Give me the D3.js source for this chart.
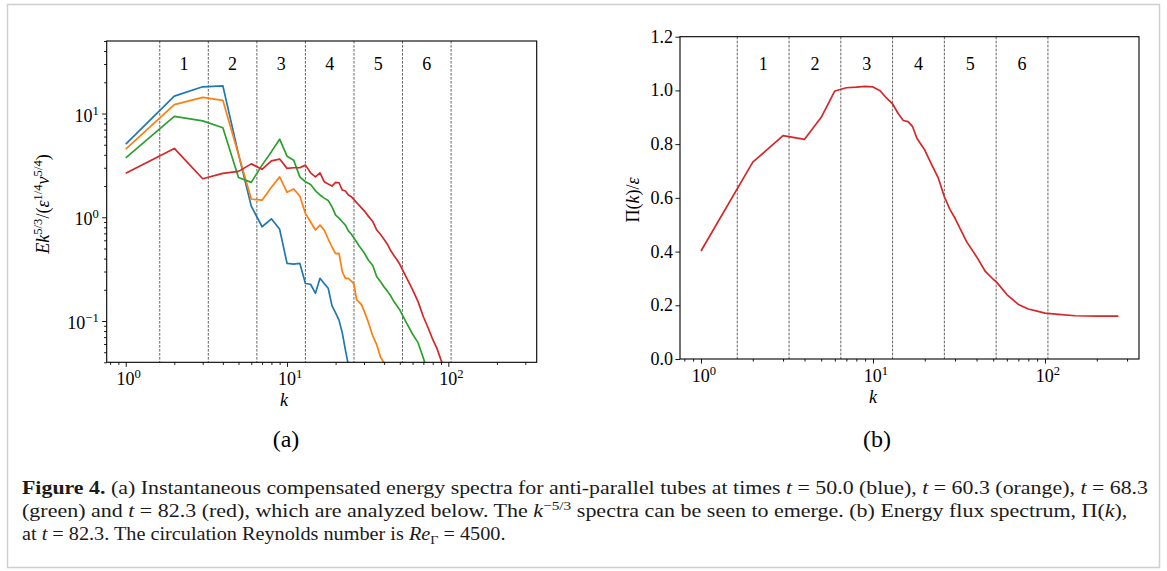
<!DOCTYPE html>
<html><head><meta charset="utf-8">
<script src="https://cdn.jsdelivr.net/npm/d3@7"></script>
<style>
body{margin:0;background:#fff;}
svg{display:block;}
</style></head><body>
<svg id="c" width="1167" height="571" font-family="Liberation Serif"></svg>
<script>
// ---------- data ----------
const kBlue=[1,2,3,4,5,6,7,8,9,10,11,12,13,14,15,16,17,18,19,20,21,22,23,24,25];
const eBlue=[5.07,14.7,18.1,18.5,4.06,1.28,0.81,0.967,0.765,0.36,0.354,0.36,0.23,0.226,0.185,0.258,0.23,0.207,0.14,0.12,0.102,0.077,0.0527,0.0377,0.029];

const kOrange=[1,2,3,4,5,6,7,8,9,10,11,12,13,14,15,16,17,18,19,20,21,22,23,24,25,26,27,28,29,30,32,34,36,38,40,42,44];
const eOrange=[4.54,12.2,14.3,13.4,4.02,1.50,1.46,1.95,2.45,1.74,1.87,1.60,1.09,0.90,0.753,0.84,0.753,0.617,0.517,0.447,0.449,0.299,0.258,0.258,0.243,0.227,0.16,0.152,0.143,0.126,0.0964,0.0718,0.0588,0.0448,0.0395,0.032,0.027];

const kGreen=[1,2,3,4,5,6,7,8,9,10,11,12,13,14,15,16,17,18,19,20,21,22,23,24,25,26,28,30,32,34,36,38,40,42,44,46,48,50,55,60,65,70,75];
const eGreen=[3.74,9.37,8.5,7.28,2.42,2.17,3.18,4.29,5.66,3.88,3.55,2.45,2.20,2.07,1.80,1.64,1.53,1.45,1.26,1.05,0.98,0.905,0.84,0.74,0.69,0.630,0.528,0.457,0.385,0.343,0.267,0.239,0.213,0.193,0.174,0.154,0.14,0.128,0.0958,0.075,0.0615,0.044,0.031];

const kRed=[1,2,3,4,5,6,7,8,9,10,11,12,13,14,15,16,17,18,19,20,21,22,23,24,25,26,28,30,32,34,36,38,40,42,44,46,48,50,55,60,65,70,75,80,85,90,95];
const eRed=[2.65,4.61,2.35,2.65,2.77,3.27,2.90,3.50,3.64,2.96,3.0,3.0,3.18,2.68,2.45,2.68,2.20,2.09,2.0,2.17,2.15,1.83,1.79,1.64,1.58,1.48,1.30,1.16,1.02,0.91,0.753,0.681,0.61,0.546,0.475,0.428,0.390,0.352,0.262,0.201,0.153,0.110,0.0857,0.0664,0.0544,0.0422,0.034];

const kFlux=[1,2,3,4,5,6,7,8,9,10,11,12,13,14,15,16,17,18,20,22,24,26,28,30,35,40,45,50,52,60,70,80,90,100,120,150,200,267];
const piFlux=[0.402,0.733,0.832,0.818,0.90,0.998,1.010,1.012,1.015,1.013,0.999,0.971,0.95,0.914,0.888,0.884,0.865,0.822,0.778,0.722,0.673,0.604,0.557,0.524,0.437,0.381,0.326,0.297,0.288,0.240,0.203,0.186,0.178,0.171,0.166,0.161,0.160,0.160];

const seriesColors=["#1f77b4","#ff7f0e","#2ca02c","#d62728"];
const bounds=[1.625,3.25,6.5,13,26,52,104];
const regionLabels=["1","2","3","4","5","6"];
const xMajor=[1,10,100], xMajorExp=["0","1","2"];
const yMajorA=[0.1,1,10], yMajorExpA=["\u22121","0","1"];
const yMajorB=[0,0.2,0.4,0.6,0.8,1.0,1.2];
const yLabelsB=["0.0","0.2","0.4","0.6","0.8","1.0","1.2"];

// ---------- drawing ----------
const svg=d3.select("#c");
svg.append("rect").attr("x",7.5).attr("y",4.5).attr("width",1152).attr("height",563)
  .attr("fill","none").attr("stroke","#cfcfcf").attr("stroke-width",1.5);

const FS=18;
function richText(sel, segs){
  let shift=0;
  segs.forEach(s=>{
    const o=s[1]||{};
    const target = o.sup? -7 : (o.sub? 4 : 0);
    const t=sel.append("tspan").text(s[0]).attr("dy",target-shift);
    shift=target;
    if(o.it) t.attr("font-style","italic");
    if(o.sup||o.sub) t.attr("font-size",o.fs||"0.7em");
    if(o.bold) t.attr("font-weight","bold");
  });
  return sel;
}

function panel(cfg){
  const g=svg.append("g");
  const x=cfg.x, y=cfg.y;
  const [x0,x1]=x.range(), [yb,yt]=y.range();
  const clipId="clip"+cfg.id;
  svg.append("clipPath").attr("id",clipId).append("rect")
    .attr("x",x0).attr("y",yt).attr("width",x1-x0).attr("height",yb-yt);
  g.selectAll("line.reg").data(bounds).enter().append("line")
    .attr("x1",d=>x(d)).attr("x2",d=>x(d)).attr("y1",yt).attr("y2",yb)
    .attr("stroke","#3a3a3a").attr("stroke-width",0.8).attr("stroke-dasharray","2.6,1.4");
  g.selectAll("text.reg").data(regionLabels).enter().append("text")
    .attr("x",(d,i)=>x(Math.sqrt(bounds[i]*bounds[i+1])))
    .attr("y",y(cfg.labelY)).attr("dy","0.35em")
    .attr("text-anchor","middle").attr("font-size",FS).text(d=>d);
  const line=d3.line().x(d=>x(d[0])).y(d=>y(d[1]));
  const lg=g.append("g").attr("clip-path","url(#"+clipId+")");
  cfg.series.forEach(s=>{
    lg.append("path").attr("d",line(d3.zip(s.k,s.v))).attr("fill","none")
      .attr("stroke",s.color).attr("stroke-width",1.7).attr("stroke-linejoin","round");
  });
  const minorX=x.ticks().filter(t=>!xMajor.includes(t));
  g.append("g").attr("transform","translate(0,"+yb+")")
    .call(d3.axisBottom(x).tickValues(minorX).tickSize(2.6).tickFormat(""))
    .call(a=>a.select(".domain").remove());
  g.append("g").attr("transform","translate(0,"+yb+")")
    .call(d3.axisBottom(x).tickValues(xMajor).tickSize(4.6).tickFormat(""))
    .call(a=>a.select(".domain").remove());
  xMajor.forEach((v,i)=>{
    const t=g.append("text").attr("x",x(v)+3).attr("y",yb+23).attr("text-anchor","middle").attr("font-size",FS);
    richText(t,[["10"],[xMajorExp[i],{sup:true}]]);
  });
  if(cfg.log){
    const minorY=y.ticks().filter(t=>!yMajorA.some(m=>Math.abs(m-t)<1e-9));
    g.append("g").attr("transform","translate("+x0+",0)")
      .call(d3.axisLeft(y).tickValues(minorY).tickSize(2.6).tickFormat(""))
      .call(a=>a.select(".domain").remove());
    g.append("g").attr("transform","translate("+x0+",0)")
      .call(d3.axisLeft(y).tickValues(yMajorA).tickSize(4.6).tickFormat(""))
      .call(a=>a.select(".domain").remove());
    yMajorA.forEach((v,i)=>{
      const t=g.append("text").attr("x",x0-8).attr("y",y(v)+8).attr("text-anchor","end").attr("font-size",FS);
      richText(t,[["10"],[yMajorExpA[i],{sup:true}]]);
    });
  } else {
    g.append("g").attr("transform","translate("+x0+",0)")
      .call(d3.axisLeft(y).tickValues(yMajorB).tickSize(4.6).tickFormat(""))
      .call(a=>a.select(".domain").remove());
    yMajorB.forEach((v,i)=>{
      g.append("text").attr("x",x0-7).attr("y",y(v)+6).attr("text-anchor","end").attr("font-size",FS).text(yLabelsB[i]);
    });
  }
  g.selectAll(".tick line").attr("stroke","#000").attr("stroke-width",0.9);
  g.append("rect").attr("x",x0).attr("y",yt).attr("width",x1-x0).attr("height",yb-yt)
    .attr("fill","none").attr("stroke","#000").attr("stroke-width",1.1);
  g.append("text").attr("x",(x(1)+x(100))/2+(cfg.id==="a"?-3:0)).attr("y",yb+44).attr("text-anchor","middle")
    .attr("font-size",FS).attr("font-style","italic").text("k");
  const yl=g.append("text").attr("transform","translate("+cfg.ylx+","+cfg.yly+") rotate(-90)")
    .attr("text-anchor","middle").attr("font-size",FS);
  richText(yl,cfg.ylabel);
  g.append("text").attr("x",cfg.tagX).attr("y",447).attr("text-anchor","middle").attr("font-size",24).text(cfg.tag);
}

const xA=d3.scaleLog().domain([0.762,353]).range([106.7,536.7]);
const yA=d3.scaleLog().domain([0.04,50]).range([362.3,41]);
panel({id:"a",x:xA,y:yA,log:true,labelY:30,
  series:[{k:kBlue,v:eBlue,color:seriesColors[0]},{k:kOrange,v:eOrange,color:seriesColors[1]},
          {k:kGreen,v:eGreen,color:seriesColors[2]},{k:kRed,v:eRed,color:seriesColors[3]}],
  ylx:49,yly:204,
  ylabel:[["E",{it:true}],["k",{it:true}],["5/3",{sup:true}],["/("],["\u03b5",{it:true}],["1/4",{sup:true}],["\u03bd",{it:true}],["5/4",{sup:true}],[")"]],
  tag:"(a)",tagX:286});

const xB=d3.scaleLog().domain([0.755,352]).range([680,1139]);
const yB=d3.scaleLinear().domain([0,1.2]).range([359,36.7]);
panel({id:"b",x:xB,y:yB,log:false,labelY:1.1,
  series:[{k:kFlux,v:piFlux,color:seriesColors[3]}],
  ylx:639,yly:200,
  ylabel:[["\u03a0("],["k",{it:true}],[")/"],["\u03b5",{it:true}]],
  tag:"(b)",tagX:877});

const capLines=[
  {y:494,w:1127,segs:[["Figure 4.",{bold:true}],[" (a) Instantaneous compensated energy spectra for anti-parallel tubes at times "],["t",{it:true}],[" = 50.0 (blue), "],["t",{it:true}],[" = 60.3 (orange), "],["t",{it:true}],[" = 68.3"]]},
  {y:517,w:1106,segs:[["(green) and "],["t",{it:true}],[" = 82.3 (red), which are analyzed below. The "],["k",{it:true}],["\u22125/3",{sup:true}],[" spectra can be seen to emerge. (b) Energy flux spectrum, \u03a0("],["k",{it:true}],["),"]]},
  {y:540,w:484,segs:[["at "],["t",{it:true}],[" = 82.3. The circulation Reynolds number is "],["Re",{it:true}],["\u0393",{sub:true}],[" = 4500."]]}
];
capLines.forEach(L=>{
  const t=svg.append("text").attr("font-size",18.5).attr("fill","#1a1a1a");
  richText(t,L.segs);
  const w=t.node().getComputedTextLength();
  t.attr("transform","translate(22,"+L.y+") scale("+(L.w/w)+",1)");
});
</script>
</body></html>
